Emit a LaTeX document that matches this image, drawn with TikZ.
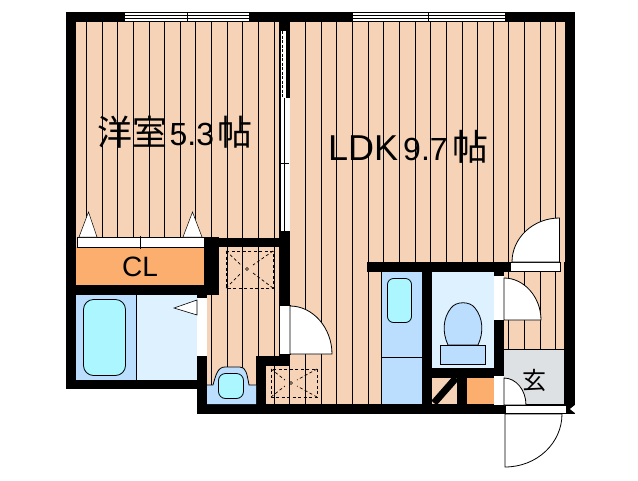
\documentclass[tikz,border=0pt]{standalone}
\usepackage{fontspec}
\setmainfont{Liberation Sans}
\newfontfamily\cjk{Noto Sans CJK JP}
\definecolor{floorc}{HTML}{F6D3B6}
\definecolor{storec}{HTML}{FBAE6E}
\definecolor{bluec}{HTML}{BBDEFF}
\definecolor{palec}{HTML}{DDF1FF}
\definecolor{cyanc}{HTML}{ABF6FF}
\definecolor{entryc}{HTML}{DEE1E4}
\tikzset{
	wall/.style={fill=black, draw=none},
	door/.style={fill=white, draw=black, line width=0.8pt},
	panel/.style={fill=white, draw=none},
	fixture/.style={draw=black, line width=0.8pt},
	pan/.style={draw=black, line width=0.7pt, dash pattern=on 3pt off 2.5pt},
	label/.style={inner sep=0pt, anchor=west, text=black}
}
\begin{document}
\begin{tikzpicture}[x=1pt, y=-1pt]
	\useasboundingbox (0,0) rectangle (638,480);
	% floor and boards
	\fill[floorc] (76,22) rectangle (565,380) (197,380) rectangle (565,404);
	\foreach \k in {0,...,30}
		\draw[line width=0.8pt] ({86.3+15.65*\k},22) -- ({86.3+15.65*\k},{\k<8 ? 380 : 404});
	% rooms
	\fill[storec] (76,247) rectangle (208,285);
	\fill[bluec] (76,295) rectangle (137,380);
	\fill[palec] (137,295) rectangle (197,380);
	\draw[line width=0.8pt] (136.5,295) -- (136.5,380);
	\fill[bluec] (381,272) rectangle (422,404);
	\draw[line width=0.8pt] (381,272) -- (381,404) (381,357) -- (422,357);
	\fill[palec] (432,272) rectangle (494,368);
	\fill[entryc] (504,349) rectangle (564,404);
	\draw[line width=0.8pt] (504,349) -- (564,349);
	\fill[storec] (467,378) rectangle (494,404);
	% walls
	\fill[wall] (66,12) rectangle (575,22);
	\fill[wall] (66,12) rectangle (76,389);
	\fill[wall] (66,380) rectangle (207,389);
	\fill[wall] (565,12) rectangle (575,270);
	\fill[wall] (564,262) rectangle (575,414);
	\fill[wall] (197,404) rectangle (566,414);
	\fill[wall] (197,295) rectangle (207,414);
	\fill[wall] (66,285) rectangle (219,295);
	\fill[wall] (204,237) rectangle (219,295);
	\fill[wall] (204,238) rectangle (290,247);
	\fill[wall] (279,22) rectangle (290,306);
	\fill[wall] (279,354) rectangle (290,366);
	\fill[wall] (256,356) rectangle (290,366);
	\fill[wall] (256,356) rectangle (266,405);
	\fill[wall] (367,262) rectangle (504,272);
	\fill[wall] (422,262) rectangle (432,405);
	\fill[wall] (494,262) rectangle (504,405);
	\fill[wall] (422,368) rectangle (504,378);
	\fill[wall] (457,368) rectangle (467,405);
	\fill[wall] (504,262) rectangle (511,272);
	\fill[white] (570,409) -- (575,405) -- (575,413) -- cycle;
	% windows
	\foreach \xa/\xb/\xm in {125/249/187,353/505/428.5} {
		\fill[white] (\xa,12) rectangle (\xb,22);
		\draw[line width=0.7pt] (\xa,12.5) -- (\xb,12.5) (\xa,15.7) -- (\xb,15.7)
			(\xa,18.4) -- (\xb,18.4) (\xa,21.3) -- (\xb,21.3) (\xm,12) -- (\xm,22);
	}
	% sliding door between the rooms
	\fill[white] (281,31) rectangle (286,98);
	\draw[line width=0.8pt, dash pattern=on 3pt off 1.5pt] (282.5,31) -- (282.5,98);
	\fill[white] (281,98) rectangle (290,231);
	\draw[line width=0.6pt] (284.5,98) -- (284.5,231) (280,163.5) -- (289,163.5) (284,154) -- (284,173);
	% closet door
	\draw[door] (77,237.5) rectangle (204,247.5);
	\draw[line width=0.6pt] (140.5,236) -- (140.5,249);
	\draw[door, line width=0.5pt] (88.5,212) -- (79,237) -- (97,237) -- cycle;
	\draw[door, line width=0.5pt] (192.5,212) -- (183,237) -- (202,237) -- cycle;
	% bath
	\draw[fixture, fill=cyanc, rounded corners=10pt] (83.5,299.5) rectangle (125.5,375.5);
	\fill[panel] (197,298) rectangle (207,356);
	\draw[door, line width=0.6pt] (197,300) -- (174,308) -- (197,315) -- cycle;
	% washer pans
	\draw[pan] (226,251) rectangle (273,288);
	\draw[pan] (226,251) -- (241,265) (273,251) -- (253,265) (226,288) -- (241,273) (273,288) -- (253,273);
	\draw[line width=0.6pt] (247,269) circle (1.5pt);
	\draw[pan] (271,369) rectangle (317,397);
	\draw[pan] (271,369) -- (285,380) (317,369) -- (297,380) (271,397) -- (285,386) (317,397) -- (297,386);
	\draw[line width=0.6pt] (291,383) circle (1.5pt);
	% wc by the hall
	\fill[bluec] (207,385) -- (213,385) .. controls (216,374) and (218,367) .. (225,367) -- (240,367)
		.. controls (246,367) and (247,374) .. (249,385) -- (256,385) -- (256,404) -- (207,404) -- cycle;
	\draw[fixture] (207,385) -- (213,385) .. controls (216,374) and (218,367) .. (225,367) -- (240,367)
		.. controls (246,367) and (247,374) .. (249,385) -- (256,385);
	\draw[fixture, fill=cyanc, rounded corners=7pt] (218.5,373.5) rectangle (243.5,398.5);
	% kitchen sink
	\draw[fixture, fill=cyanc, rounded corners=6pt] (387.5,278.5) rectangle (411.5,322.5);
	% wc
	\draw[fixture, fill=bluec] (448,345) .. controls (442,332) and (443,318) .. (451,308)
		.. controls (456,301) and (470,301) .. (475,308) .. controls (483,318) and (484,332) .. (478,345) -- cycle;
	\draw[fixture, fill=bluec] (440.5,345.5) rectangle (485.5,364.5);
	% pipe space
	\fill[floorc] (432,378) rectangle (457,404);
	\draw[line width=7pt] (456,378) -- (434,403);
	% doors
	\fill[panel] (279.5,305) rectangle (290,354);
	\draw[line width=0.6pt] (279.5,305) rectangle (290,354);
	\draw[door] (290,354) -- (290,306) .. controls (313,306) and (332,328) .. (332,354) -- cycle;
	\fill[panel] (494,276) rectangle (504,320);
	\draw[door] (504,320) -- (504,278) .. controls (524,278) and (541,297) .. (541,320) -- cycle;
	\fill[panel] (494,376) rectangle (504,405);
	\draw[door] (504,405) -- (504,378) .. controls (516,378) and (526,390) .. (526,405) -- cycle;
	\draw[door] (510,262.5) rectangle (560,271.5);
	\draw[door] (559.5,262) -- (559.5,218) .. controls (533,218) and (512,238) .. (512,262) -- cycle;
	\draw[door] (505,405) rectangle (566,413.5);
	\draw[door] (505,414) -- (505,467) .. controls (537,467) and (562,443) .. (562,414) -- cycle;
	% labels
	\node[label, font=\fontsize{35}{35}\selectfont] (western) at (97,132)
		{{\cjk 洋室}\hspace{2.5pt}{\fontsize{32}{32}\selectfont 5.3}\hspace{3.5pt}{\cjk 帖}};
	\node[label, font=\fontsize{36}{36}\selectfont] (ldk) at (328,147)
		{LDK\hspace{5pt}{\fontsize{32}{32}\selectfont 9.7}\hspace{5pt}{\cjk 帖}};
	\node[label, font=\fontsize{28}{28}\selectfont] (closet) at (122,267) {CL};
	\node[label, font=\fontsize{24}{24}\selectfont\cjk] (entrance) at (522,380) {玄};
\end{tikzpicture}
\end{document}
